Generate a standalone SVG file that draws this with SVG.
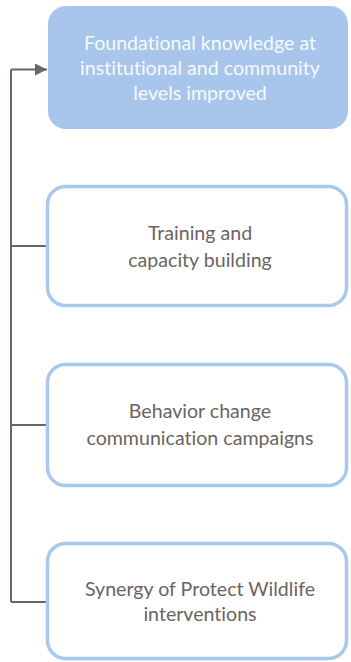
<svg xmlns="http://www.w3.org/2000/svg" width="351" height="662" viewBox="0 0 351 662">
<defs>
<style>
.lbl{font-family:Lato,"Open Sans","DejaVu Sans",sans-serif;font-size:19.6px;text-anchor:middle;fill:#6b6462;font-variant-ligatures:none}
.w{fill:#f7f9fc}
.ob{fill:#ffffff;stroke:#a9c8ee;stroke-width:3.5}
.conn{fill:none;stroke:#6d6564;stroke-width:2}
</style>
<marker id="ah" markerWidth="12" markerHeight="12" refX="12" refY="6" orient="auto" markerUnits="userSpaceOnUse">
<path d="M0,0 L12,6 L0,12 Z" fill="#6d6564"/>
</marker>
</defs>
<rect width="351" height="662" fill="#ffffff"/>
<g id="connectors">
<path class="conn" d="M11,69.5 L47,69.5" marker-end="url(#ah)"/>
<path class="conn" d="M11,69.5 L11,602"/>
<path class="conn" d="M11,246 L47,246"/>
<path class="conn" d="M11,425 L47,425"/>
<path class="conn" d="M11,602 L46,602"/>
</g>
<g id="node1">
<rect x="48" y="6" width="300" height="123" rx="18" fill="#a8c6eb"/>
<text class="lbl w" x="200" y="50">Foundational knowledge at</text>
<text class="lbl w" x="200" y="75">institutional and community</text>
<text class="lbl w" x="200" y="100">levels improved</text>
</g>
<g id="node2">
<rect class="ob" x="47.5" y="186.5" width="299" height="119" rx="18"/>
<text class="lbl" x="200" y="240">Training and</text>
<text class="lbl" x="200" y="267">capacity building</text>
</g>
<g id="node3">
<rect class="ob" x="47.5" y="364.5" width="299" height="121" rx="18"/>
<text class="lbl" x="200" y="418">Behavior change</text>
<text class="lbl" x="200" y="445">communication campaigns</text>
</g>
<g id="node4">
<rect class="ob" x="47.5" y="543.5" width="299" height="115" rx="18"/>
<text class="lbl" x="200" y="596">Synergy of Protect Wildlife</text>
<text class="lbl" x="200" y="621">interventions</text>
</g>
</svg>
